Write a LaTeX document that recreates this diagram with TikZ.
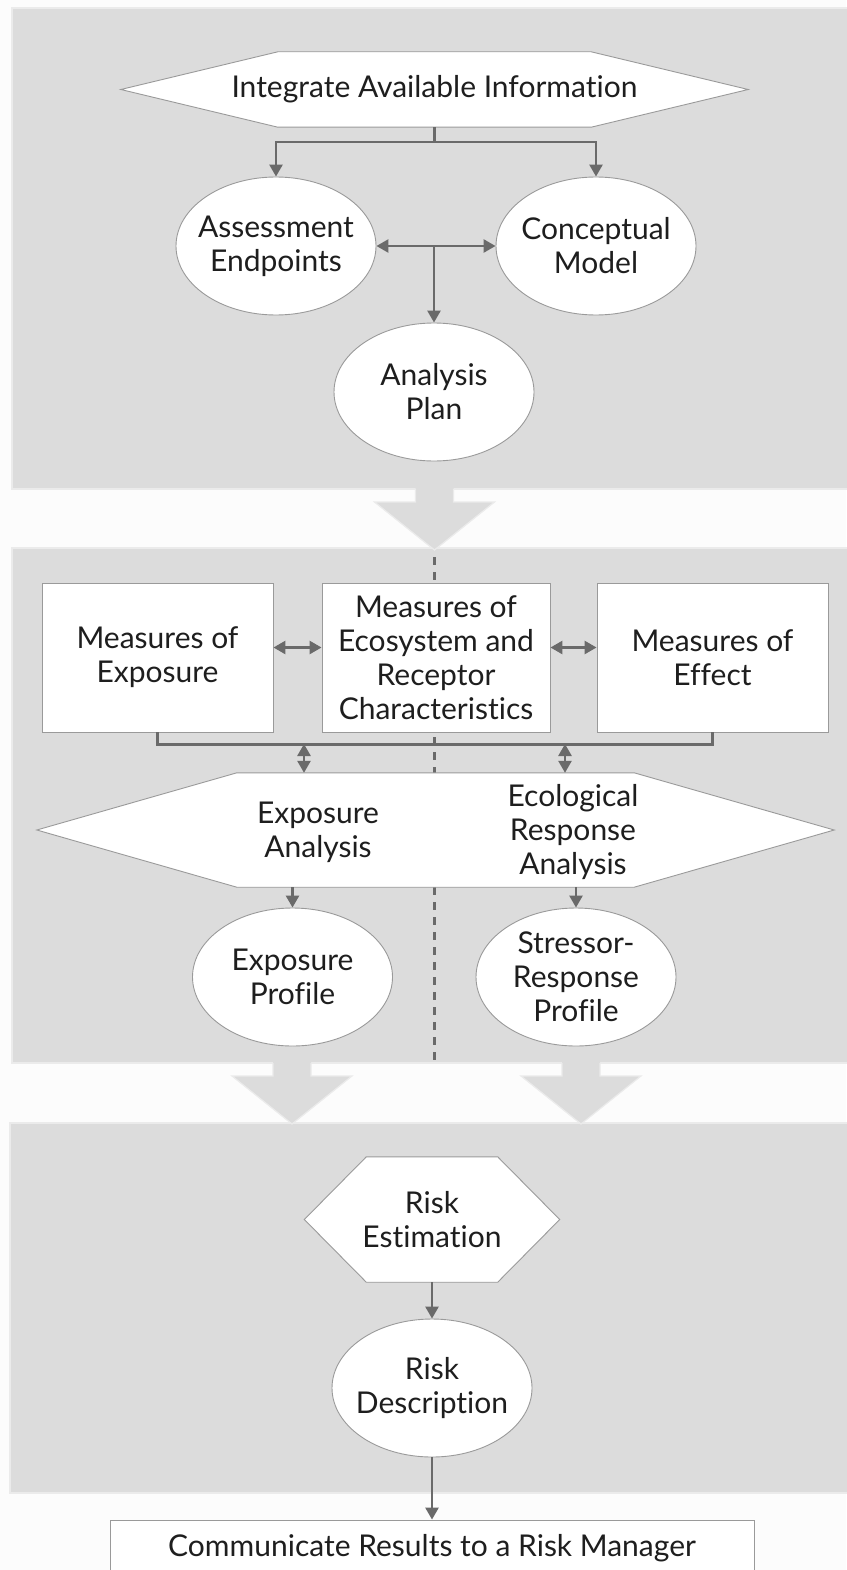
\documentclass[tikz,border=0pt]{standalone}
\usepackage{fontspec}
\setmainfont{Lato}[Ligatures={NoCommon}]
\usetikzlibrary{positioning,shapes.geometric,arrows.meta,backgrounds}

\definecolor{paper}{HTML}{FCFCFC}
\definecolor{panelgray}{HTML}{DCDCDC}
\definecolor{panelline}{HTML}{EBEBEB}
\definecolor{linkgray}{HTML}{6A6A6A}
\definecolor{edgegray}{HTML}{9A9A9A}
\definecolor{inkdark}{HTML}{1E1E1E}

\pgfdeclarelayer{panels}
\pgfdeclarelayer{shapes}
\pgfsetlayers{panels,shapes,main}

\tikzset{
  panel/.style={fill=panelgray, draw=panelline, line width=1.2pt},
  flowbox/.style={rectangle, draw=edgegray, fill=white, line width=0.9pt, align=center, inner sep=0pt},
  % negative inner sep keeps the ellipse at its minimum size
  bubble/.style={ellipse, draw=edgegray, fill=white, line width=0.9pt, align=center,
    inner xsep=-60pt, inner ysep=-30pt, minimum width=200pt, minimum height=138pt},
  hexnode/.style={rectangle, align=center, inner xsep=-100pt, inner ysep=0pt},
  hexfill/.style={fill=white, draw=edgegray, line width=0.9pt},
  link/.style={draw=linkgray, line width=2.6pt},
  arr/.style={link, ->},
  dbl/.style={link, <->},
  guide/.style={draw=linkgray, line width=3pt, dash pattern=on 8pt off 7pt},
}

% white hexagon behind a node, #2 = length of the side points
\newcommand\hexback[2]{%
  \begin{pgfonlayer}{shapes}
    \draw[hexfill] (#1.north west) -- (#1.north east) -- ([xshift=#2]#1.east)
      -- (#1.south east) -- (#1.south west) -- ([xshift=-#2]#1.west) -- cycle;
  \end{pgfonlayer}}

% wide gray arrow leaving a panel at x=#1, panel bottom y=#2
\newcommand\flowarrow[2]{%
  \fill[panelgray] (#1-19,#2-1) -- (#1-19,#2+13) -- (#1-60,#2+13) -- (#1,#2+61)
    -- (#1+60,#2+13) -- (#1+19,#2+13) -- (#1+19,#2-1) -- cycle;
  \draw[panelline, line width=1.2pt] (#1-19,#2) -- (#1-19,#2+13) -- (#1-60,#2+13)
    -- (#1,#2+61) -- (#1+60,#2+13) -- (#1+19,#2+13) -- (#1+19,#2);}

\begin{document}
\begin{tikzpicture}[x=1pt, y=-1pt, >={Triangle[width=13pt,length=12pt]},
    font=\fontsize{30}{34}\selectfont, text=inkdark]
  \useasboundingbox (0,0) rectangle (846,1570);

  \begin{pgfonlayer}{panels}
    \fill[paper] (0,0) rectangle (846,1570);
    \draw[panel] (12,8) rectangle (880,489);
    \draw[panel] (12,548) rectangle (880,1063);
    \draw[panel] (10,1123) rectangle (880,1493);
    \flowarrow{434.5}{489}
    \flowarrow{292}{1063}
    \flowarrow{581}{1063}
    \draw[guide] (434,557) -- (434,1063);
  \end{pgfonlayer}

  % problem formulation
  \node[hexnode, minimum width=313pt, minimum height=75pt] (integ) at (434.5,89.5) {Integrate Available Information};
  \hexback{integ}{157pt}
  \node[bubble] (ae) at (276,246) {Assessment\\Endpoints};
  \node[bubble] (cm) at (596,246) {Conceptual\\Model};
  \node[bubble] (ap) at (434,392) {Analysis\\Plan};

  \draw[arr] (integ.south) -- ++(0,15) -| (ae.north);
  \draw[arr] (integ.south) -- ++(0,15) -| (cm.north);
  \draw[dbl] (ae.east) -- (cm.west);
  \draw[arr] (ae.east -| ap.north) -- (ap.north);

  % analysis
  \node[flowbox, minimum width=231pt, minimum height=149pt] (mexp) at (157.5,657.5) {Measures of\\Exposure};
  \node[flowbox, minimum width=228pt, minimum height=149pt] (meco) at (436,658) {Measures of\\Ecosystem and\\Receptor\\Characteristics};
  \node[flowbox, minimum width=231pt, minimum height=149pt] (meff) at (712.5,657.5) {Measures of\\Effect};

  \node[hexnode, minimum width=397pt, minimum height=114pt] (anlys) at (435.5,830) {};
  \hexback{anlys}{200pt}
  \node[align=center] (expana) at (318,832) {Exposure\\Analysis};
  \node[align=center] (ecoana) at (573,832) {Ecological\\Response\\Analysis};

  \node[bubble] (ep) at (292.5,977) {Exposure\\Profile};
  \node[bubble] (srp) at (576,977) {Stressor-\\Response\\Profile};

  \draw[dbl] ([yshift=10pt]mexp.east) -- ([yshift=10pt]mexp.east -| meco.west);
  \draw[dbl] ([yshift=10pt]meff.west -| meco.east) -- ([yshift=10pt]meff.west);
  \draw[link] (mexp.south) -- ++(0,12) -| (meff.south);
  \coordinate (busl) at (304,744);
  \coordinate (busr) at (565,744);
  \draw[dbl] (busl) -- (busl |- anlys.north);
  \draw[dbl] (busr) -- (busr |- anlys.north);
  \draw[arr] (anlys.south -| ep.north) -- (ep.north);
  \draw[arr] (anlys.south -| srp.north) -- (srp.north);

  % risk characterization
  \node[hexnode, minimum width=131pt, minimum height=125pt] (riskest) at (432,1219.5) {Risk\\Estimation};
  \hexback{riskest}{62pt}
  \node[bubble] (rd) at (432,1388) {Risk\\Description};
  \node[flowbox, minimum width=644pt, minimum height=56pt] (comm) at (432,1548) {Communicate Results to a Risk Manager};

  \draw[arr] (riskest.south) -- (rd.north);
  \draw[arr] (rd.south) -- (comm.north);
\end{tikzpicture}
\end{document}
